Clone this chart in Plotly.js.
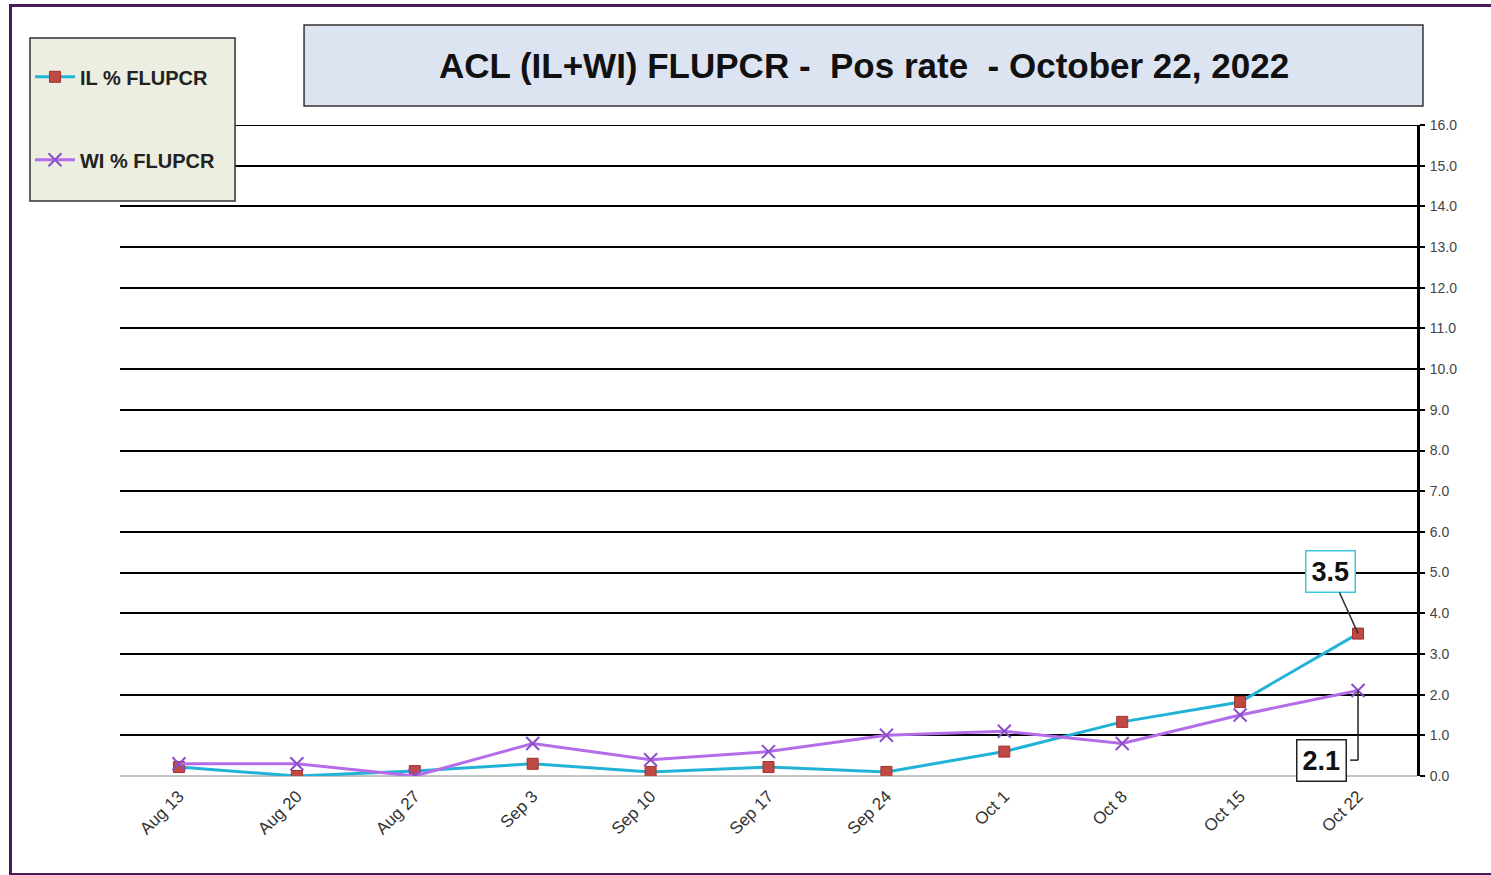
<!DOCTYPE html>
<html>
<head>
<meta charset="utf-8">
<script src="https://cdn.plot.ly/plotly-3.0.1.min.js"></script>
<style>
html,body{margin:0;padding:0;background:#fff;}
#wrap{position:relative;width:1491px;height:875px;}
#chart{position:absolute;left:0;top:0;width:1491px;height:875px;}
#frame{position:absolute;left:9px;top:4px;width:1500px;height:866px;border-top:3px solid #4a1a5a;border-left:3px solid #4a1a5a;border-bottom:3px solid #4a1a5a;pointer-events:none;}
</style>
</head>
<body>
<div id="wrap"><div id="chart"></div><div id="frame"></div></div>
<script>
const weeks = ["Aug 13","Aug 20","Aug 27","Sep 3","Sep 10","Sep 17","Sep 24","Oct 1","Oct 8","Oct 15","Oct 22"];
const ilPct = [0.22, 0.0, 0.12, 0.3, 0.1, 0.22, 0.1, 0.6, 1.33, 1.82, 3.5];
const wiPct = [0.3, 0.3, 0.0, 0.8, 0.4, 0.6, 1.0, 1.1, 0.8, 1.5, 2.1];
const seriesNames = ["IL % FLUPCR", "WI % FLUPCR"];
const titleText = "ACL (IL+WI) FLUPCR -\u00a0\u00a0Pos rate\u00a0\u00a0- October 22, 2022";

const font = "Arial, 'Liberation Sans', sans-serif";
const last = weeks.length - 1;

const traces = [
  {x: weeks, y: ilPct, name: seriesNames[0], type: "scatter", mode: "lines+markers",
   legendgroup: "a",
   line: {color: "#22b2d6", width: 3},
   marker: {symbol: "square", size: 11, color: "#bf4a44", line: {color: "#a0302c", width: 1}}},
  {x: weeks, y: wiPct, name: seriesNames[1], type: "scatter", mode: "lines+markers",
   legendgroup: "b",
   line: {color: "#b56ce8", width: 3},
   marker: {symbol: "x-thin", size: 13, color: "#8a4fc8", line: {color: "#8a4fc8", width: 2}}}
];

const layout = {
  width: 1491, height: 875,
  paper_bgcolor: "rgba(0,0,0,0)", plot_bgcolor: "#fff",
  margin: {l: 120, r: 74, t: 125, b: 99},
  font: {family: font, color: "#222"},
  title: {text: "<b>" + titleText + "</b>", font: {family: font, size: 35, color: "#111"},
          xref: "container", yref: "container", x: 864/1491, xanchor: "center",
          y: 1 - 66/875, yanchor: "middle"},
  showlegend: true,
  legend: {x: -0.0694, xanchor: "left", y: 1.104, yanchor: "top",
           bgcolor: "rgba(0,0,0,0)", borderwidth: 0,
           font: {family: font, size: 20, color: "#222", weight: "bold"},
           traceorder: "grouped", tracegroupgap: 54, itemwidth: 40},
  xaxis: {type: "category", range: [-0.5, 10.5], showgrid: false, zeroline: false,
          showline: false, ticks: "", tickangle: -45, ticklabelstandoff: 6,
          tickfont: {family: font, size: 17, color: "#333"}},
  yaxis: {side: "right", range: [0, 16], dtick: 1, tickformat: ".1f",
          showgrid: true, gridcolor: "#000", gridwidth: 2,
          zeroline: true, zerolinecolor: "#c4c4c4", zerolinewidth: 2,
          showline: true, linecolor: "#000", linewidth: 3,
          ticks: "outside", ticklen: 5, tickcolor: "#000", tickwidth: 2,
          ticklabelstandoff: 2,
          tickfont: {family: font, size: 14, color: "#444"}},
  shapes: [
    {type: "rect", xref: "paper", yref: "paper", x0: 0.1419, x1: 1.0046, y0: 1.0292, y1: 1.1536,
     fillcolor: "#dde4f1", line: {color: "#333", width: 1.5}, layer: "below"},
    {type: "line", xref: "paper", yref: "y", x0: 0, x1: 1, y0: 16, y1: 16,
     line: {color: "#000", width: 2}, layer: "below"},
    {type: "rect", xref: "paper", yref: "paper", x0: -0.0694, x1: 0.0887, y0: 0.8833, y1: 1.1336,
     fillcolor: "#ebeee0", line: {color: "#333", width: 1.5}, layer: "above"},
    {type: "line", xref: "x", yref: "y", x0: last, x1: last, y0: wiPct[last], y1: 0.39,
     line: {color: "#222", width: 1.5}},
    {type: "line", xref: "x", yref: "y", xsizemode: "pixel", xanchor: last, x0: -8, x1: 0,
     y0: 0.39, y1: 0.39, line: {color: "#222", width: 1.5}}
  ],
  annotations: [
    {x: last, y: ilPct[last], xref: "x", yref: "y", text: "<b>" + ilPct[last].toFixed(1) + "</b>",
     showarrow: true, arrowhead: 0, arrowwidth: 1.5, arrowcolor: "#333", ax: -28, ay: -62,
     font: {family: font, size: 27, color: "#111"}, bgcolor: "#fff",
     bordercolor: "#3cc6e0", borderwidth: 1.5, borderpad: 5},
    {x: last, y: 0.39, xref: "x", yref: "y", xshift: -37, text: "<b>" + wiPct[last].toFixed(1) + "</b>",
     showarrow: false, font: {family: font, size: 27, color: "#111"}, bgcolor: "#fff",
     bordercolor: "#222", borderwidth: 1.5, borderpad: 5}
  ]
};

Plotly.newPlot("chart", traces, layout, {displayModeBar: false, staticPlot: true});
</script>
</body>
</html>
